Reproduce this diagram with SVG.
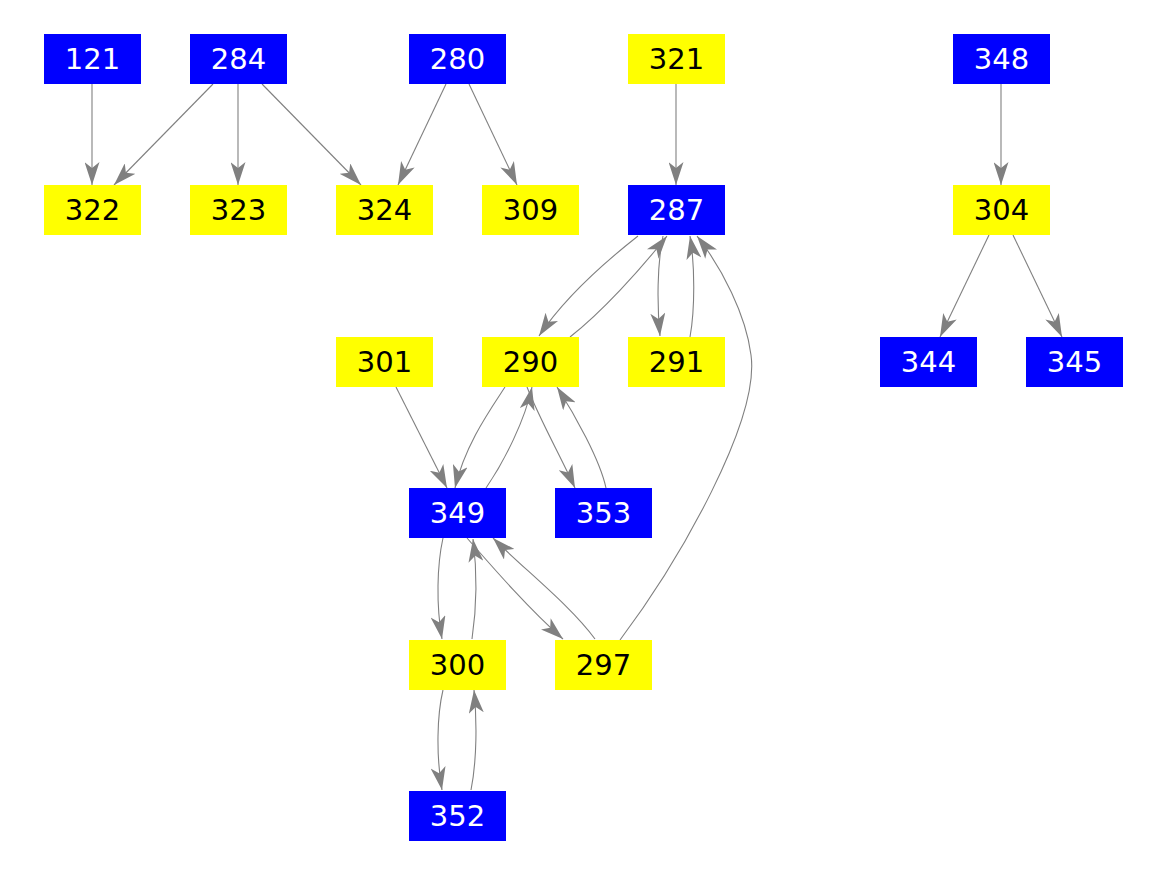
<svg xmlns="http://www.w3.org/2000/svg" width="1167" height="875" viewBox="0 0 1167 875">
<style>
.b rect{fill:#0000ff}
.y rect{fill:#ffff00}
text{font-family:"DejaVu Sans",sans-serif;font-size:29px;text-anchor:middle}
.b text{fill:#ffffff}
.y text{fill:#000000}
#edges path{fill:none;stroke:#808080;stroke-width:1.1;marker-end:url(#ah)}
</style>
<defs>
<marker id="ah" viewBox="0 0 23 15" refX="23" refY="7.5" markerWidth="23" markerHeight="15" markerUnits="userSpaceOnUse" orient="auto">
<path d="M0,0 L23,7.5 L0,15 L6,7.5 z" fill="#808080"/>
</marker>
</defs>
<rect width="1167" height="875" fill="#ffffff"/>
<g id="edges">
<path d="M92,84 L92,185"/>
<path d="M213,84 L114,185"/>
<path d="M238,84 L238,185"/>
<path d="M262,84 L361,185"/>
<path d="M446,84 L398,185"/>
<path d="M469,84 L517,185"/>
<path d="M676,84 L676,185"/>
<path d="M1001,84 L1001,185"/>
<path d="M989,235 L940,337"/>
<path d="M1013,235 L1062,337"/>
<path d="M638,236 C610,258 565,297 539,336"/>
<path d="M570,337 C602,312 640,270 667,236"/>
<path d="M663,236 C657,265 657,305 660,336"/>
<path d="M690,337 C695,310 695,265 690,236"/>
<path d="M620,640 C680,560 760,420 751,355 C746,315 722,268 697,236"/>
<path d="M396,387 L447,488"/>
<path d="M505,387 C490,410 465,445 455,488"/>
<path d="M486,488 C505,460 525,420 532,387"/>
<path d="M527,387 C540,420 560,455 575,488"/>
<path d="M606,488 C600,460 575,415 557,387"/>
<path d="M443,538 C437,565 436,605 442,639"/>
<path d="M472,639 C477,605 477,570 473,539"/>
<path d="M467,538 C495,570 530,610 563,639"/>
<path d="M595,639 C570,605 525,570 493,538"/>
<path d="M443,690 C437,715 436,755 442,790"/>
<path d="M471,790 C477,760 477,720 474,690"/>
</g>
<g id="n121" class="b"><rect x="44" y="34" width="97" height="50"/><text x="92.5" y="69">121</text></g>
<g id="n284" class="b"><rect x="190" y="34" width="97" height="50"/><text x="238.5" y="69">284</text></g>
<g id="n280" class="b"><rect x="409" y="34" width="97" height="50"/><text x="457.5" y="69">280</text></g>
<g id="n321" class="y"><rect x="628" y="34" width="97" height="50"/><text x="676.5" y="69">321</text></g>
<g id="n348" class="b"><rect x="953" y="34" width="97" height="50"/><text x="1001.5" y="69">348</text></g>
<g id="n322" class="y"><rect x="44" y="185" width="97" height="50"/><text x="92.5" y="220">322</text></g>
<g id="n323" class="y"><rect x="190" y="185" width="97" height="50"/><text x="238.5" y="220">323</text></g>
<g id="n324" class="y"><rect x="336" y="185" width="97" height="50"/><text x="384.5" y="220">324</text></g>
<g id="n309" class="y"><rect x="482" y="185" width="97" height="50"/><text x="530.5" y="220">309</text></g>
<g id="n287" class="b"><rect x="628" y="185" width="97" height="50"/><text x="676.5" y="220">287</text></g>
<g id="n304" class="y"><rect x="953" y="185" width="97" height="50"/><text x="1001.5" y="220">304</text></g>
<g id="n301" class="y"><rect x="336" y="337" width="97" height="50"/><text x="384.5" y="372">301</text></g>
<g id="n290" class="y"><rect x="482" y="337" width="97" height="50"/><text x="530.5" y="372">290</text></g>
<g id="n291" class="y"><rect x="628" y="337" width="97" height="50"/><text x="676.5" y="372">291</text></g>
<g id="n344" class="b"><rect x="880" y="337" width="97" height="50"/><text x="928.5" y="372">344</text></g>
<g id="n345" class="b"><rect x="1026" y="337" width="97" height="50"/><text x="1074.5" y="372">345</text></g>
<g id="n349" class="b"><rect x="409" y="488" width="97" height="50"/><text x="457.5" y="523">349</text></g>
<g id="n353" class="b"><rect x="555" y="488" width="97" height="50"/><text x="603.5" y="523">353</text></g>
<g id="n300" class="y"><rect x="409" y="640" width="97" height="50"/><text x="457.5" y="675">300</text></g>
<g id="n297" class="y"><rect x="555" y="640" width="97" height="50"/><text x="603.5" y="675">297</text></g>
<g id="n352" class="b"><rect x="409" y="791" width="97" height="50"/><text x="457.5" y="826">352</text></g>
</svg>
